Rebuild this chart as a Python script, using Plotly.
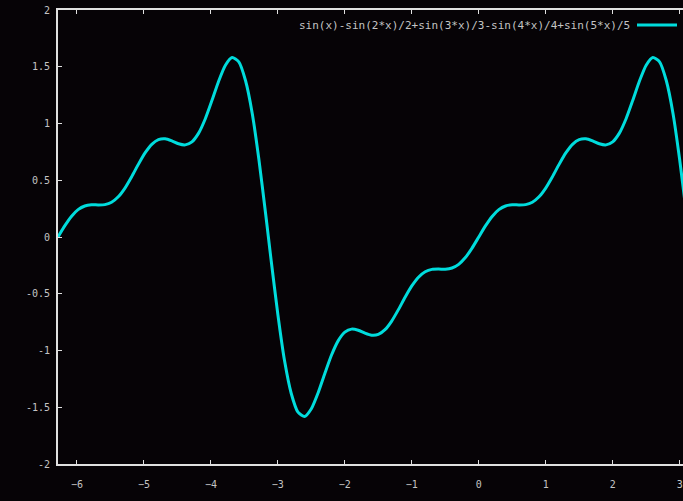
import plotly.graph_objects as go

# Values (x, y)
x_vals = [
    -6.2832, -6.1832, -6.0832, -5.9832, -5.8832, -5.7832, -5.6832, -5.5832, -5.4832, -5.3832,
    -5.2832, -5.1832, -5.0832, -4.9832, -4.8832, -4.7832, -4.6832, -4.5832, -4.4832, -4.3832,
    -4.2832, -4.1832, -4.0832, -3.9832, -3.8832, -3.7832, -3.6832, -3.5832, -3.4832, -3.3832,
    -3.2832, -3.1832, -3.1416,
    -3.1, -3.0, -2.9, -2.8, -2.7, -2.6, -2.5, -2.4, -2.3, -2.2, -2.1, -2.0, -1.9, -1.8, -1.7,
    -1.6, -1.5, -1.4, -1.3, -1.2, -1.1, -1.0, -0.9, -0.8, -0.7, -0.6, -0.5, -0.4, -0.3, -0.2,
    -0.1, 0.0,
    0.1, 0.2, 0.3, 0.4, 0.5, 0.6, 0.7, 0.8, 0.9, 1.0, 1.1, 1.2, 1.3, 1.4, 1.5, 1.6, 1.7, 1.8,
    1.9, 2.0, 2.1, 2.2, 2.3, 2.4, 2.5, 2.6, 2.7, 2.8, 2.9, 3.0, 3.1, 3.2,
]
y_vals = [
    0.0, 0.0975, 0.1812, 0.2408, 0.2734, 0.2836, 0.2825, 0.2852, 0.3060, 0.3540,
    0.4313, 0.5311, 0.6399, 0.7404, 0.8166, 0.8586, 0.8655, 0.8471, 0.8215, 0.8117,
    0.8385, 0.9150, 1.0419, 1.2045, 1.3745, 1.5134, 1.5811, 1.5431, 1.3787, 1.0910,
    0.6824, 0.2074, 0.0,
    -0.2074, -0.6824, -1.0910, -1.3787, -1.5431, -1.5811, -1.5134, -1.3745, -1.2045, -1.0419,
    -0.9150, -0.8385, -0.8117, -0.8215, -0.8471, -0.8655, -0.8586, -0.8166, -0.7404, -0.6399,
    -0.5311, -0.4313, -0.3540, -0.3060, -0.2852, -0.2825, -0.2836, -0.2734, -0.2408, -0.1812,
    -0.0975, 0.0,
    0.0975, 0.1812, 0.2408, 0.2734, 0.2836, 0.2825, 0.2852, 0.3060, 0.3540, 0.4313, 0.5311,
    0.6399, 0.7404, 0.8166, 0.8586, 0.8655, 0.8471, 0.8215, 0.8117, 0.8385, 0.9150, 1.0419,
    1.2045, 1.3745, 1.5134, 1.5811, 1.5431, 1.3787, 1.0910, 0.6824, 0.2074, -0.2900,
]

x_ticks = [-6, -5, -4, -3, -2, -1, 0, 1, 2, 3]
y_ticks = [-2, -1.5, -1, -0.5, 0, 0.5, 1, 1.5, 2]
y_tick_labels = ["-2", "-1.5", "-1", "-0.5", "0", "0.5", "1", "1.5", "2"]
legend_label = "sin(x)-sin(2*x)/2+sin(3*x)/3-sin(4*x)/4+sin(5*x)/5"

CURVE = "#00dcdc"
BG = "#060306"
AXIS = "#e0e0e0"
TEXT = "#c4c4c4"
FONT = "DejaVu Sans Mono"

fig = go.Figure()
fig.add_trace(go.Scatter(
    x=x_vals, y=y_vals, mode="lines",
    line=dict(color=CURVE, width=3, shape="spline", smoothing=0.6),
    name=legend_label, showlegend=False, hoverinfo="skip",
))

fig.update_layout(
    width=683, height=501,
    margin=dict(l=58, r=0, t=10, b=37),
    paper_bgcolor=BG, plot_bgcolor=BG,
    font=dict(family=FONT, size=11, color=TEXT),
    showlegend=False,
    xaxis=dict(
        range=[-6.2832, 3.05], tickvals=x_ticks,
        showgrid=False, zeroline=False, automargin=False,
        showline=True, linecolor=AXIS, linewidth=2, mirror="ticks",
        ticks="inside", ticklen=4, tickwidth=1, tickcolor=AXIS,
        ticklabelstandoff=10,
        tickfont=dict(family=FONT, size=10, color=TEXT),
    ),
    yaxis=dict(
        range=[-2, 2], tickvals=y_ticks, ticktext=y_tick_labels,
        showgrid=False, zeroline=False, automargin=False,
        showline=True, linecolor=AXIS, linewidth=2,
        ticks="inside", ticklen=4, tickwidth=1, tickcolor=AXIS,
        ticklabelstandoff=4,
        tickfont=dict(family=FONT, size=10, color=TEXT),
    ),
    annotations=[dict(
        xref="paper", yref="paper", x=(632 - 58) / 625, y=(464 - 25) / 454,
        xanchor="right", yanchor="middle", showarrow=False,
        text=legend_label, font=dict(family=FONT, size=11, color=TEXT),
    )],
    shapes=[dict(
        type="line", xref="paper", yref="paper",
        x0=(637 - 58) / 625, x1=(677 - 58) / 625,
        y0=(464 - 25) / 454, y1=(464 - 25) / 454,
        line=dict(color=CURVE, width=3),
    )],
)

fig.write_html(
    "out.html",
    config={"displayModeBar": False, "staticPlot": True},
    post_script="document.body.style.margin='0';document.body.style.overflow='hidden';"
                "document.body.style.background='" + BG + "';",
)
